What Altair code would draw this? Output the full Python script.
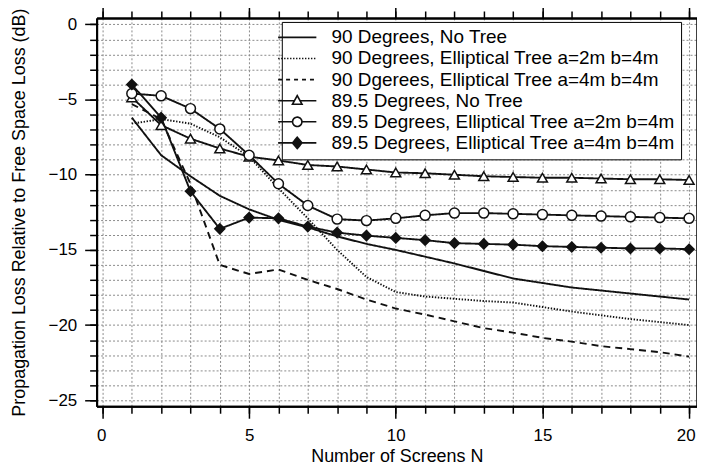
import altair as alt
import pandas as pd

# ---------------- data ----------------
N = list(range(1, 21))

series_names = [
    "90 Degrees, No Tree",
    "90 Degrees, Elliptical Tree a=2m b=4m",
    "90 Dgerees, Elliptical Tree a=4m b=4m",
    "89.5 Degrees, No Tree",
    "89.5 Degrees, Elliptical Tree a=2m b=4m",
    "89.5 Degrees, Elliptical Tree a=4m b=4m",
]

loss_90_none = [-6.2, -8.7, -10.1, -11.4, -12.3, -13.0, -13.5, -14.1, -14.6, -15.0,
                -15.45, -15.9, -16.4, -16.9, -17.2, -17.5, -17.7, -17.9, -18.1, -18.3]
loss_90_a2 = [-6.6, -6.3, -6.6, -7.5, -8.8, -10.9, -12.9, -15.0, -16.8, -17.8,
              -18.1, -18.25, -18.4, -18.5, -18.8, -19.1, -19.35, -19.6, -19.8, -20.0]
loss_90_a4 = [-5.3, -6.3, -10.6, -16.0, -16.6, -16.3, -17.0, -17.6, -18.3, -18.9,
              -19.3, -19.75, -20.2, -20.5, -20.85, -21.1, -21.4, -21.6, -21.8, -22.1]
loss_895_none = [-4.85, -6.7, -7.6, -8.25, -8.8, -9.05, -9.35, -9.45, -9.65, -9.85,
                 -9.9, -10.0, -10.1, -10.15, -10.2, -10.2, -10.25, -10.3, -10.3, -10.35]
loss_895_a2 = [-4.6, -4.75, -5.6, -6.95, -8.7, -10.6, -12.05, -12.95, -13.05, -12.9,
               -12.7, -12.55, -12.55, -12.6, -12.65, -12.7, -12.75, -12.8, -12.85, -12.9]
loss_895_a4 = [-4.0, -6.2, -11.1, -13.6, -12.85, -12.9, -13.45, -13.85, -14.05, -14.2,
               -14.35, -14.55, -14.6, -14.65, -14.75, -14.8, -14.85, -14.9, -14.9, -14.95]

all_losses = [loss_90_none, loss_90_a2, loss_90_a4, loss_895_none, loss_895_a2, loss_895_a4]

x_major = [0, 5, 10, 15, 20]
x_minor = list(range(0, 21))
y_major = [-25, -20, -15, -10, -5, 0]
y_minor = list(range(-25, 1))

# ---------------- tables ----------------
rows = []
for name, vals in zip(series_names, all_losses):
    for n, v in zip(N, vals):
        rows.append({"N": n, "loss": v, "series": name})
df = pd.DataFrame(rows)
legend_df = pd.DataFrame({"Legend": series_names})

marker_series = series_names[3:]

# ---------------- styles ----------------
FONT = "Liberation Sans"
INK = "#111111"
dash_range = [[1, 0], [1.4, 1.6], [7, 5], [1, 0], [1, 0], [1, 0]]
legend_dash = [[1, 0], [1.4, 1.6], [4, 4], [1, 0], [1, 0], [1, 0]]

# custom legend symbols (unit = sqrt(symbolSize)/2 px)
line_path = "M-3.2,0H3.2"
tri_path = ("M-3.2,0H-0.45M0.45,0H3.2"
            "M0,-0.85L0.8,0.6L-0.8,0.6Z"
            "M0,-0.85L-0.8,0.6L0.8,0.6Z")
circ_path = ("M-3.2,0H-0.78M0.78,0H3.2"
             "M0.78,0A0.78,0.78 0 1,1 -0.78,0A0.78,0.78 0 1,1 0.78,0Z"
             "M0.78,0A0.78,0.78 0 1,0 -0.78,0A0.78,0.78 0 1,0 0.78,0Z")
diam_path = "M-3.2,0H3.2M0,-0.95L0.8,0L0,0.95L-0.8,0Z"
legend_shapes = [line_path, line_path, line_path, tri_path, circ_path, diam_path]

x_scale = alt.Scale(domain=[-0.2, 20.27], nice=False, zero=False)
y_scale = alt.Scale(domain=[-25.4, 0.43], nice=False, zero=False)

tick_style = dict(tickWidth=1.5, tickColor="black", domainColor="black", domainWidth=2)
label_style = dict(labelFont=FONT, labelFontSize=17, labelColor="black",
                   labelOverlap=False,
                   titleFont=FONT, titleFontSize=18, titleFontWeight="normal",
                   titleColor="black")

x_bottom = alt.Axis(orient="bottom", values=x_major, tickSize=12, grid=False,
                    labelPadding=9, titlePadding=4, labelFlush=9, labelFlushOffset=6,
                    **tick_style, **label_style)
y_left = alt.Axis(orient="left", values=y_major, tickSize=12, grid=False,
                  labelPadding=8, titlePadding=20, labelFlush=False,
                  **tick_style, **label_style)

x_bottom_minor = alt.Axis(orient="bottom", values=x_minor, tickSize=7, labels=False,
                          title=None, grid=True, gridDash=[2, 2], gridColor="#8a8a8a",
                          gridWidth=1, **tick_style)
y_left_minor = alt.Axis(orient="left", values=y_minor, tickSize=7, labels=False,
                        title=None, grid=True, gridDash=[2, 2], gridColor="#8a8a8a",
                        gridWidth=1, **tick_style)

x_top = alt.Axis(orient="top", values=x_major, tickSize=12, labels=False, grid=False,
                 title=None, **tick_style)
y_right = alt.Axis(orient="right", values=y_major, tickSize=12, labels=False, grid=False,
                   title=None, **tick_style)
x_top_minor = alt.Axis(orient="top", values=x_minor, tickSize=7, labels=False, grid=False,
                       title=None, **tick_style)
y_right_minor = alt.Axis(orient="right", values=y_minor, tickSize=7, labels=False,
                         grid=False, title=None, **tick_style)

# ---------------- layers ----------------
grid_layer = alt.Chart(df).mark_point(opacity=0).encode(
    x=alt.X("N:Q", scale=x_scale, axis=x_bottom_minor),
    y=alt.Y("loss:Q", scale=y_scale, axis=y_left_minor),
)

lines = alt.Chart(df).mark_line(color=INK, strokeWidth=1.9).encode(
    x=alt.X("N:Q", scale=x_scale, axis=x_bottom, title="Number of Screens N"),
    y=alt.Y("loss:Q", scale=y_scale, axis=y_left,
            title="Propagation Loss Relative to Free Space Loss (dB)"),
    strokeDash=alt.StrokeDash("series:N", sort=series_names,
                              scale=alt.Scale(domain=series_names, range=dash_range),
                              legend=None),
)

points = alt.Chart(df).transform_filter(
    alt.FieldOneOfPredicate(field="series", oneOf=marker_series)
).mark_point(stroke=INK, strokeWidth=1.5, size=100, opacity=1, fillOpacity=1).encode(
    x=alt.X("N:Q", scale=x_scale, axis=None),
    y=alt.Y("loss:Q", scale=y_scale, axis=None),
    shape=alt.Shape("series:N", scale=alt.Scale(domain=marker_series,
                                                range=["triangle-up", "circle", "diamond"]),
                    legend=None),
    fill=alt.Fill("series:N", scale=alt.Scale(domain=marker_series,
                                              range=["white", "white", INK]),
                  legend=None),
)

leg_opts = dict(
    title=None, orient="none", legendX=186, legendY=4,
    symbolSize=144, symbolStrokeWidth=1.6, symbolStrokeColor=INK,
    symbolFillColor=INK, symbolOpacity=1,
    labelFont=FONT, labelFontSize=19, labelColor="black", labelLimit=600,
    labelOffset=25, rowPadding=1.2, padding=6,
    strokeColor="black", fillColor="white",
)

legend_layer = alt.Chart(legend_df).mark_point(
    filled=False, color=INK, fill=INK, strokeWidth=1.6, opacity=0
).encode(
    shape=alt.Shape("Legend:N", sort=series_names,
                    scale=alt.Scale(domain=series_names, range=legend_shapes),
                    legend=alt.Legend(**leg_opts)),
    strokeDash=alt.StrokeDash("Legend:N", sort=series_names,
                              scale=alt.Scale(domain=series_names, range=legend_dash),
                              legend=alt.Legend(**leg_opts)),
    stroke=alt.Stroke("Legend:N", sort=series_names,
                      scale=alt.Scale(domain=series_names, range=[INK] * 6),
                      legend=alt.Legend(**leg_opts)),
)

frame_major = alt.Chart(df).mark_point(opacity=0).encode(
    x=alt.X("N:Q", scale=x_scale, axis=x_top),
    y=alt.Y("loss:Q", scale=y_scale, axis=y_right),
)
frame_minor = alt.Chart(df).mark_point(opacity=0).encode(
    x=alt.X("N:Q", scale=x_scale, axis=x_top_minor),
    y=alt.Y("loss:Q", scale=y_scale, axis=y_right_minor),
)

chart = alt.layer(grid_layer, lines, points, legend_layer, frame_major, frame_minor).resolve_scale(
    shape="independent", strokeDash="independent", fill="independent", stroke="independent"
).resolve_axis(
    x="independent", y="independent"
).properties(
    width=603, height=390,
    autosize=alt.AutoSizeParams(type="none"),
    padding={"left": 89, "top": 9, "right": 0, "bottom": 60},
).configure_view(stroke=None).configure(font=FONT, background="white")

chart.save("out.html", embed_options={"renderer": "svg", "actions": False})
